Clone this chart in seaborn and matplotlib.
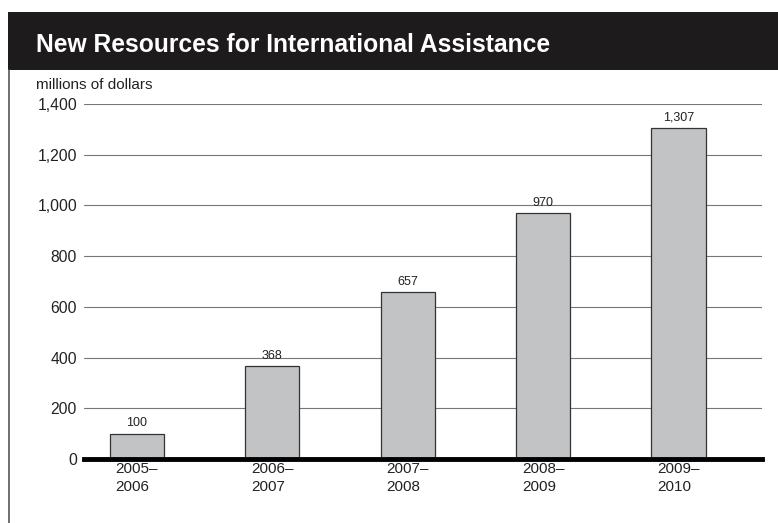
import matplotlib
matplotlib.use("Agg")
import matplotlib.pyplot as plt
import seaborn as sns
import pandas as pd
from matplotlib.patches import Rectangle
from matplotlib.lines import Line2D

periods = ["2005–\n2006", "2006–\n2007", "2007–\n2008", "2008–\n2009", "2009–\n2010"]
values = [100, 368, 657, 970, 1307]
value_labels = ["100", "368", "657", "970", "1,307"]
yticks = [0, 200, 400, 600, 800, 1000, 1200, 1400]
ytick_labels = ["0", "200", "400", "600", "800", "1,000", "1,200", "1,400"]
title = "New Resources for International Assistance"
unit = "millions of dollars"

sns.set_theme(style="white")
plt.rcParams['font.family'] = ['Liberation Sans', 'DejaVu Sans']

df = pd.DataFrame({"period": periods, "value": values})

fig = plt.figure(figsize=(7.78, 5.23), dpi=100)
ax = fig.add_axes([84/778, 1-459/523, (762-84)/778, (459-104)/523])

sns.barplot(data=df, x="period", y="value", ax=ax, color="#c2c3c5",
            edgecolor="#333333", linewidth=0.9, width=0.4, saturation=1, zorder=3)

ax.set_ylim(0, 1400)
ax.set_xlim(-0.39, 4.617)
ax.set_yticks(yticks)
ax.set_yticklabels(ytick_labels, fontsize=11.3, color="#222222")
ax.set_xticks(range(len(periods)))
ax.set_xticklabels(periods, fontsize=11, color="#222222", linespacing=1.35,
                   multialignment="left")
ax.set_xlabel("")
ax.set_ylabel("")
ax.tick_params(axis="y", length=0, pad=5)
ax.tick_params(axis="x", length=0, pad=2)
for s in ["top", "right", "left"]:
    ax.spines[s].set_visible(False)
ax.spines["bottom"].set_linewidth(3.5)
ax.spines["bottom"].set_color("black")
ax.spines["bottom"].set_zorder(5)
ax.yaxis.grid(True, color="#777777", linewidth=0.8, zorder=0)
ax.set_axisbelow(True)

for i, (v, lab) in enumerate(zip(values, value_labels)):
    ax.annotate(lab, (i, v), xytext=(0, 3), textcoords="offset points",
                ha="center", va="bottom", fontsize=9, color="#222222")

# title band
fig.patches.append(Rectangle((8/778, 1-70/523), 1-8/778, (70-12)/523,
                             transform=fig.transFigure, facecolor="#1d1b1b",
                             edgecolor="none", zorder=0))
fig.text(36/778, 1-45/523, title, color="white", fontsize=17.7, fontweight="bold",
         family=["Liberation Sans Narrow", "Liberation Sans", "DejaVu Sans"],
         va="center", ha="left")
fig.text(36/778, 1-85/523, unit, fontsize=11, color="#222222", va="center", ha="left")
fig.lines.append(Line2D([9/778, 9/778], [0, 1-70/523], transform=fig.transFigure,
                        color="#555555", linewidth=1.2))

fig.savefig("out.png", dpi=100)
